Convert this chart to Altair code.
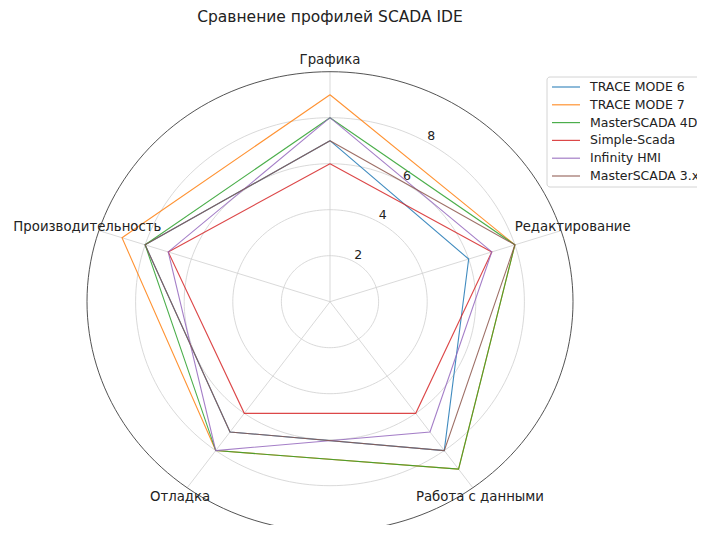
import math
import altair as alt
import pandas as pd

# ---------------- data ----------------
categories = ["Графика", "Редактирование", "Работа с данными", "Отладка", "Производительность"]
series_names = ["TRACE MODE 6", "TRACE MODE 7", "MasterSCADA 4D", "Simple-Scada", "Infinity HMI", "MasterSCADA 3.x"]
trace_mode_6 = [7, 6, 8, 7, 8]
trace_mode_7 = [9, 8, 9, 8, 9]
masterscada_4d = [8, 8, 9, 8, 8]
simple_scada = [6, 7, 6, 6, 7]
infinity_hmi = [8, 7, 7, 8, 7]
masterscada_3x = [7, 8, 8, 7, 8]
series_values = [trace_mode_6, trace_mode_7, masterscada_4d, simple_scada, infinity_hmi, masterscada_3x]
colors = ["#1f77b4", "#ff7f0e", "#2ca02c", "#d62728", "#9467bd", "#8c564b"]
ring_ticks = [2, 4, 6, 8]
r_max = 10
title_text = "Сравнение профилей SCADA IDE"

# ---------------- geometry ----------------
CX, CY = 330.0, 301.7      # page pixel of the centre
SX, SY = 24.3, 23.0        # pixels per unit
W, H = 689, 517
x_min = -(CX - 8) / SX
y_max = (CY - 8) / SY
x_dom = [x_min, x_min + W / SX]
y_dom = [y_max - H / SY, y_max]
FONT = "DejaVu Sans"
n = len(categories)


def px_to_x(px):
    return x_min + (px - 8) / SX


def py_to_y(py):
    return y_max - (py - 8) / SY


def ang(i):
    return math.radians(90 - 360.0 / n * i)


# series polygons
rows = []
for name, vals in zip(series_names, series_values):
    for k in range(n + 1):
        i = k % n
        rows.append({"series": name, "order": k,
                     "x": vals[i] * math.cos(ang(i)), "y": vals[i] * math.sin(ang(i))})
lines_df = pd.DataFrame(rows)

# grid rings
ring_rows = []
for r in ring_ticks + [r_max]:
    for t in range(0, 361, 2):
        a = math.radians(t)
        ring_rows.append({"ring": r, "order": t, "x": r * math.cos(a), "y": r * math.sin(a),
                          "outer": r == r_max})
rings_df = pd.DataFrame(ring_rows)

spokes_df = pd.DataFrame([{"x": 0.0, "y": 0.0,
                           "x2": r_max * math.cos(ang(i)), "y2": r_max * math.sin(ang(i))}
                          for i in range(n)])

lab_r = 10.5
labels_df = pd.DataFrame([{"label": c, "x": lab_r * math.cos(ang(i)), "y": lab_r * math.sin(ang(i))}
                          for i, c in enumerate(categories)])

tick_a = math.radians(60)
ticks_df = pd.DataFrame([{"label": str(v), "x": (v + 0.33) * math.cos(tick_a),
                          "y": (v + 0.33) * math.sin(tick_a)} for v in ring_ticks])

# manual legend (layout positions in page pixels, converted to the chart's units)
leg_rows = []
for i, name in enumerate(series_names):
    py = 87 + 17.8 * i
    leg_rows.append({"series": name, "x": px_to_x(552), "x2": px_to_x(580),
                     "tx": px_to_x(590), "y": py_to_y(py)})
legend_df = pd.DataFrame(leg_rows)
frame_df = pd.DataFrame([{"x": px_to_x(547), "x2": px_to_x(730),
                          "y": py_to_y(77), "y2": py_to_y(187)}])

xs = alt.Scale(domain=x_dom, nice=False, zero=False)
ys = alt.Scale(domain=y_dom, nice=False, zero=False)
X = lambda f="x": alt.X(f"{f}:Q", scale=xs, axis=None)
Y = lambda f="y": alt.Y(f"{f}:Q", scale=ys, axis=None)
col = alt.Color("series:N", sort=series_names,
                scale=alt.Scale(domain=series_names, range=colors), legend=None)

inner_rings = alt.Chart(rings_df).transform_filter("!datum.outer").mark_line(
    color="#cfcfcf", strokeWidth=0.8).encode(x=X(), y=Y(), detail="ring:N", order="order:Q")
outer_ring = alt.Chart(rings_df).transform_filter("datum.outer").mark_line(
    color="#404040", strokeWidth=0.9).encode(x=X(), y=Y(), order="order:Q")
spokes = alt.Chart(spokes_df).mark_rule(color="#cfcfcf", strokeWidth=0.8).encode(
    x=X(), y=Y(), x2="x2:Q", y2="y2:Q")
ticks = alt.Chart(ticks_df).mark_text(font=FONT, fontSize=12.5, color="#222222",
                                      align="center", baseline="middle").encode(
    x=X(), y=Y(), text="label:N")

polys = alt.Chart(lines_df).mark_line(strokeWidth=1.1, opacity=0.85).encode(
    x=X(), y=Y(), order="order:Q", detail="series:N", color=col)

cat_labels = alt.Chart(labels_df).mark_text(font=FONT, fontSize=13.3, color="#222222",
                                            align="center", baseline="middle").encode(
    x=X(), y=Y(), text="label:N")

frame = alt.Chart(frame_df).mark_rect(fill="white", fillOpacity=0.85, stroke="#d4d4d4",
                                      strokeWidth=1, cornerRadius=3).encode(
    x=X(), x2="x2:Q", y=Y(), y2="y2:Q")
leg_lines = alt.Chart(legend_df).mark_rule(strokeWidth=1.2, opacity=0.85).encode(
    x=X(), x2="x2:Q", y=Y(), color=col)
leg_text = alt.Chart(legend_df).mark_text(font=FONT, fontSize=12.5, color="#222222",
                                          align="left", baseline="middle").encode(
    x=X("tx"), y=Y(), text="series:N")

title = alt.Chart(pd.DataFrame({"t": [title_text]})).mark_text(
    font=FONT, fontSize=15.5, color="#222222", align="center", baseline="middle").encode(
    x=alt.value(CX - 8), y=alt.value(17 - 8), text="t:N")

chart = alt.layer(inner_rings, spokes, outer_ring, ticks, polys, cat_labels,
                  frame, leg_lines, leg_text, title).properties(
    width=W, height=H, padding=0, autosize=alt.AutoSizeParams(type="none")
).configure_view(stroke=None)

chart.save("out.html", embed_options={"renderer": "svg", "actions": False})
